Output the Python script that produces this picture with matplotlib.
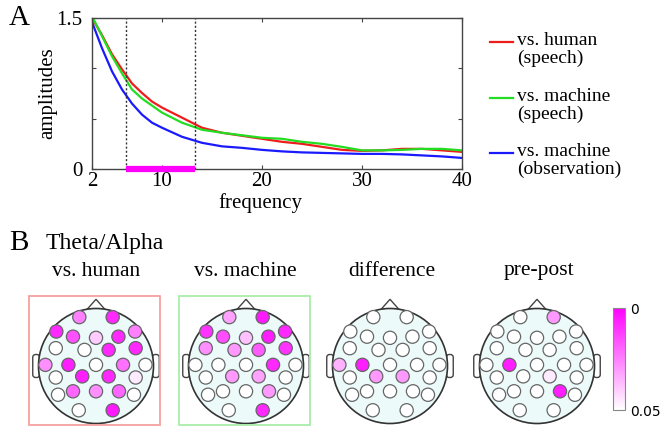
import matplotlib
matplotlib.use("Agg")
import matplotlib.pyplot as plt
import numpy as np
from matplotlib.patches import Circle, Rectangle, Polygon, FancyBboxPatch
from matplotlib.lines import Line2D
from matplotlib.colors import LinearSegmentedColormap, Normalize
import matplotlib.cm as cm

plt.rcParams['font.family'] = ['Liberation Serif', 'DejaVu Serif']

# ---------------- Panel A data ----------------
freq = [3, 4, 5, 6, 7, 8, 9, 10, 12, 14, 16, 18, 20, 22, 24, 26, 28, 30, 32, 34, 36, 38, 40]
amp_human_speech = [1.50, 1.33, 1.14, 0.99, 0.85, 0.755, 0.67, 0.61, 0.51, 0.41, 0.36, 0.33, 0.30,
                    0.27, 0.25, 0.22, 0.19, 0.18, 0.185, 0.20, 0.20, 0.185, 0.17]
amp_machine_speech = [1.52, 1.32, 1.12, 0.95, 0.79, 0.70, 0.63, 0.56, 0.46, 0.39, 0.36, 0.335, 0.31,
                      0.30, 0.27, 0.25, 0.22, 0.185, 0.185, 0.19, 0.20, 0.20, 0.185]
amp_machine_obs = [1.46, 1.20, 0.97, 0.79, 0.65, 0.54, 0.46, 0.41, 0.32, 0.26, 0.225, 0.21, 0.19,
                   0.175, 0.165, 0.16, 0.155, 0.15, 0.15, 0.145, 0.135, 0.125, 0.11]
series_labels = ["vs. human\n(speech)", "vs. machine\n(speech)", "vs. machine\n(observation)"]
series_colors = ["#ee1c1c", "#22dd22", "#1a1aff"]
band = [6.4, 13.3]
xtick_pos = [3, 10, 20, 30, 40]
xtick_labels = ["2", "10", "20", "30", "40"]
ytick_pos = [0, 0.5, 1.0, 1.5]
ytick_labels = ["0", "", "", "1.5"]

# ---------------- Panel B data ----------------
electrodes = ["Fp1", "Fp2", "F7", "F3", "Fz", "F4", "F8", "FC5", "FC1", "FC2", "FC6",
              "T7", "C3", "Cz", "C4", "T8", "CP5", "CP1", "CP2", "CP6",
              "P7", "P3", "Pz", "P4", "P8", "O1", "O2"]
elec_x = [-0.29, 0.29, -0.69, -0.40, 0.0, 0.39, 0.68, -0.70, -0.20, 0.22, 0.69,
          -0.88, -0.48, 0.0, 0.47, 0.86, -0.70, -0.24, 0.22, 0.69,
          -0.66, -0.40, 0.0, 0.40, 0.66, -0.30, 0.29]
elec_y = [0.85, 0.85, 0.60, 0.51, 0.49, 0.51, 0.60, 0.31, 0.28, 0.28, 0.31,
          0.02, 0.02, 0.02, 0.02, 0.02, -0.20, -0.18, -0.18, -0.20,
          -0.50, -0.44, -0.44, -0.44, -0.50, -0.77, -0.77]
ns = 1.0  # not significant
p_human = [0.025, 0.008, 0.008, 0.016, 0.040, 0.008, 0.025, ns, ns, 0.008, 0.008,
           0.028, 0.006, ns, 0.022, ns, ns, 0.006, 0.008, 0.046,
           ns, 0.020, 0.028, 0.020, ns, ns, 0.005]
p_machine = [0.032, 0.005, 0.010, 0.015, 0.038, 0.006, 0.008, 0.028, 0.030, 0.018, 0.010,
             ns, ns, ns, 0.008, ns, ns, 0.030, 0.032, ns,
             ns, ns, ns, 0.030, ns, ns, 0.008]
p_difference = [ns, ns, ns, ns, ns, ns, ns, ns, ns, ns, ns,
                0.035, 0.006, ns, ns, ns, ns, 0.030, 0.030, ns,
                ns, ns, ns, ns, ns, ns, ns]
p_prepost = [ns, 0.030, ns, ns, ns, ns, ns, ns, ns, ns, ns,
             ns, 0.006, ns, ns, ns, ns, ns, 0.046, ns,
             ns, ns, ns, 0.006, ns, ns, ns]
head_titles = ["vs. human", "vs. machine", "difference", "pre-post"]
head_pvals = [p_human, p_machine, p_difference, p_prepost]
head_boxes = ["#f4a0a0", "#a8eea8", None, None]
p_max = 0.05

W, H = 661, 426
fig = plt.figure(figsize=(W / 100, H / 100), dpi=100)


def fx(px):
    return px / W


def fy(py):
    return 1 - py / H


# ---------------- Panel A ----------------
axA = fig.add_axes([fx(92), fy(169), fx(462) - fx(92), fy(18) - fy(169)])
series = [amp_human_speech, amp_machine_speech, amp_machine_obs]
for vals, col in zip(series, series_colors):
    axA.plot(freq, vals, color=col, lw=1.6, clip_on=True)
for b in band:
    axA.axvline(b, color="#333333", lw=1.0, ls=(0, (1.5, 1.5)))
axA.plot(band, [0, 0], color="#ff00ff", lw=4.5, solid_capstyle="butt", clip_on=False, zorder=5)
axA.set_xlim(3, 40)
axA.set_ylim(0, 1.5)
axA.set_xticks(xtick_pos)
axA.set_xticklabels(xtick_labels)
axA.set_yticks(ytick_pos)
axA.set_yticklabels(ytick_labels)
axA.tick_params(direction="in", top=True, right=True, length=3, width=0.8,
                labelsize=15, color="#444444")
axA.tick_params(axis="x", pad=2.5)
axA.tick_params(axis="y", pad=7)
for s in axA.spines.values():
    s.set_color("#444444")
    s.set_linewidth(1.0)
fig.text(fx(48), fy(93), "amplitudes", rotation=90, ha="center", va="center", fontsize=15)
fig.text(fx(260), fy(203), "frequency", ha="center", va="center", fontsize=15)
fig.text(fx(19), fy(18), "A", ha="center", va="center", fontsize=21)

# legend (manual)
leg_y = [42, 98, 153]
for lab, col, yy in zip(series_labels, series_colors, leg_y):
    fig.add_artist(Line2D([fx(490), fx(513)], [fy(yy), fy(yy)], color=col, lw=1.6))
    fig.text(fx(517), fy(yy - 10), lab, ha="left", va="top", fontsize=14, linespacing=1.05)

# ---------------- Panel B ----------------
fig.text(fx(19), fy(243), "B", ha="center", va="center", fontsize=21)
fig.text(fx(46), fy(243), "Theta/Alpha", ha="left", va="center", fontsize=17)

cmap = LinearSegmentedColormap.from_list("pm", ["#ff00ff", "#ffffff"])
norm = Normalize(vmin=0, vmax=p_max)

centers_x = [96, 246, 390, 537]
center_y = 366
title_x = [96, 245, 392, 539]
R = 57.5
Wh = 75
lim = Wh / R
for i, (cx, pv, title, boxc) in enumerate(zip(centers_x, head_pvals, head_titles, head_boxes)):
    ax = fig.add_axes([fx(cx - Wh), fy(center_y + Wh), fx(2 * Wh), 2 * Wh / H])
    ax.set_xlim(-lim, lim)
    ax.set_ylim(-lim, lim)
    ax.set_aspect("equal")
    ax.axis("off")
    # ears
    for sgn in (-1, 1):
        ax.add_patch(FancyBboxPatch((sgn * 1.04 - 0.06, -0.20), 0.12, 0.40,
                                    boxstyle="round,pad=0,rounding_size=0.05",
                                    fc="white", ec="#444444", lw=1.0, zorder=1))
    # nose
    ax.add_patch(Polygon([[-0.16, 0.98], [0, 1.16], [0.16, 0.98]], closed=True,
                         fc="white", ec="#444444", lw=1.0, zorder=1))
    ax.add_patch(Circle((0, 0), 1.0, fc="#edfafa", ec="#333333", lw=1.2, zorder=2))
    for x, y, p in zip(elec_x, elec_y, pv):
        col = cmap(norm(min(p, p_max)))
        ax.add_patch(Circle((x, y), 0.115, fc=col, ec="#666666", lw=0.9, zorder=3))
    if boxc is not None:
        ax.add_patch(Rectangle((-1.17, -1.02), 2.28, 2.23, fill=False, ec=boxc, lw=1.3,
                               clip_on=False, zorder=4))
    fig.text(fx(title_x[i]), fy(271), title, ha="center", va="center", fontsize=15.5)

# colorbar
cax = fig.add_axes([fx(613), fy(410), fx(12), 102 / H])
cb = fig.colorbar(cm.ScalarMappable(norm=norm, cmap=cmap), cax=cax)
cb.set_ticks([0, p_max])
cb.set_ticklabels(["0", "0.05"])
cax.invert_yaxis()
cax.tick_params(length=0, labelsize=10, pad=4)
for t in cax.get_yticklabels():
    t.set_fontfamily("DejaVu Sans")
cb.outline.set_edgecolor("#888888")
cb.outline.set_linewidth(0.8)

fig.savefig("out.png", dpi=100)
